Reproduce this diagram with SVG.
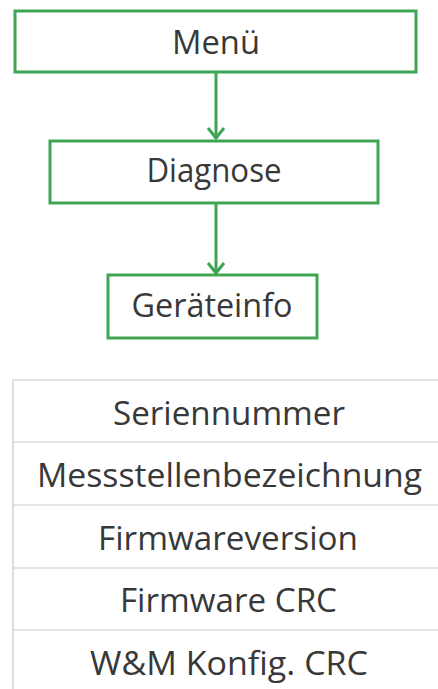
<svg xmlns="http://www.w3.org/2000/svg" width="438" height="689" viewBox="0 0 438 689">
<style>
.box{fill:#fff;stroke:#3fa552;stroke-width:3}
.lbl{font-family:"Open Sans","Noto Sans",sans-serif;font-size:32px;fill:#383838;text-anchor:middle}
.conn{stroke:#3fa552;stroke-width:3;fill:none}
.row{stroke:#c9c9c9;stroke-width:1.2;fill:none}
</style>
<rect width="438" height="689" fill="#fff"/>
<g id="connectors">
<line class="conn" x1="216" y1="72" x2="216" y2="139"/>
<path class="conn" d="M208,128 L216,138 L224,128"/>
<line class="conn" x1="216" y1="203" x2="216" y2="273"/>
<path class="conn" d="M208,263 L216,273 L224,263"/>
</g>
<g id="menu">
<rect class="box" x="15" y="11" width="401" height="61"/>
<text class="lbl" x="216" y="54" textLength="88" lengthAdjust="spacingAndGlyphs">Menü</text>
</g>
<g id="diagnose">
<rect class="box" x="50" y="141" width="328" height="62"/>
<text class="lbl" x="214" y="182" textLength="135" lengthAdjust="spacingAndGlyphs">Diagnose</text>
</g>
<g id="geraeteinfo">
<rect class="box" x="108" y="275" width="209" height="63"/>
<text class="lbl" x="212" y="317" textLength="161" lengthAdjust="spacingAndGlyphs">Geräteinfo</text>
</g>
<g id="table">
<path class="row" d="M13,689 L13,380 L438,380 M13,442 L438,442 M13,505 L438,505 M13,568 L438,568 M13,630 L438,630"/>
<text class="lbl" x="229" y="425" textLength="232" lengthAdjust="spacingAndGlyphs">Seriennummer</text>
<text class="lbl" x="229.5" y="487" textLength="385" lengthAdjust="spacingAndGlyphs">Messstellenbezeichnung</text>
<text class="lbl" x="228" y="550" textLength="260" lengthAdjust="spacingAndGlyphs">Firmwareversion</text>
<text class="lbl" x="228.5" y="612" textLength="217" lengthAdjust="spacingAndGlyphs">Firmware CRC</text>
<text class="lbl" x="229" y="675" textLength="278" lengthAdjust="spacingAndGlyphs">W&amp;M Konfig. CRC</text>
</g>
</svg>
